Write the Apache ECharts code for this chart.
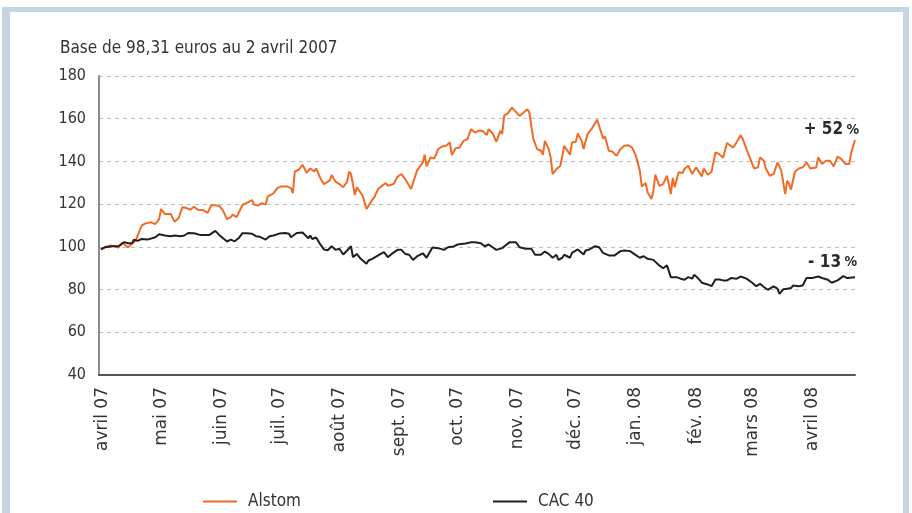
<!DOCTYPE html>
<html>
<head>
<meta charset="utf-8">
<script src="https://cdn.jsdelivr.net/npm/echarts@6/dist/echarts.min.js"></script>
<style>
  html, body { margin: 0; padding: 0; background: #fff; }
  #chart { width: 912px; height: 513px; }
</style>
</head>
<body>
<div id="chart"></div>
<script>
// days counted from 1 April 2007
const monthStarts = [0, 30, 61, 91, 122, 153, 183, 214, 244, 275, 306, 335, 366]
const monthLabels = ['avril 07', 'mai 07', 'juin 07', 'juil. 07', 'août 07', 'sept. 07', 'oct. 07',
  'nov. 07', 'déc. 07', 'jan. 08', 'fév. 08', 'mars 08', 'avril 08']

const alstomDays = [1, 3, 6, 8, 10, 12, 15, 19, 20, 22, 24, 25, 27, 29, 31, 32, 34, 37, 39, 41, 43, 45, 47, 49, 51, 54, 56, 58, 62,
  64, 66, 68, 69, 71, 73, 74, 77, 79, 80, 82, 84, 86, 87, 90, 92, 94, 97, 99, 100, 101, 103, 105, 106, 107, 109, 111, 112, 114,
  116, 117, 119, 120, 122, 124, 126, 128, 129, 130, 132, 133, 136, 138, 139, 141, 142, 144, 146, 148, 149, 152, 154, 156, 158,
  159, 161, 162, 164, 165, 167, 168, 169, 171, 172, 173, 175, 177, 179, 181, 182, 184, 186, 188, 190, 192, 193, 194, 196, 198,
  200, 201, 203, 205, 207, 208, 209, 211, 213, 214, 217, 219, 221, 222, 224, 226, 228, 229, 230, 232, 233, 234, 236, 238, 240,
  243, 244, 246, 247, 249, 250, 252, 254, 257, 258, 260, 261, 263, 265, 267, 269, 271, 273, 275, 277, 279, 280, 282, 283, 285,
  286, 287, 289, 291, 293, 295, 296, 297, 299, 301, 302, 304, 306, 308, 309, 311, 312, 314, 316, 318, 320, 322, 323, 324, 327,
  328, 329, 331, 332, 333, 335, 337, 338, 340, 341, 343, 344, 346, 348, 350, 351, 352, 354, 355, 356, 357, 359, 361, 363, 365,
  367, 370, 371, 373, 375, 377, 379, 380, 381, 383, 384, 385, 387, 388, 390]
const alstomValues = [98.8, 99.8, 100.6, 100.3, 99.7, 101.9, 99.8, 103, 102.2, 110, 111, 110.6, 111.5, 110.6, 113, 117.7, 115.4,
  115.4, 111.8, 113.4, 118.5, 118.2, 117.4, 118.8, 117.4, 117.1, 115.9, 119.6, 119.3,
  117, 113, 113.9, 115.1, 113.9, 117.7, 119.6, 120.9, 121.9, 119.8, 119.3, 120.5, 119.8, 123.5, 125, 127.5, 128.3, 128.3, 127.5,
  125.2, 135.3, 136.1, 138.4, 136.7, 134.6, 136.7, 135.3, 136.7, 132.5, 129.4, 129, 131, 133.6, 130.5, 129.4, 127.9, 130.5,
  135.2, 134.1, 124.3, 127.9, 124, 117.7, 118.2, 122.1, 123.2, 127.1, 128.6, 129.9, 128.6, 129.4, 132.8, 134.1, 131.7, 131.4,
  127.1, 127.9, 135.6, 135.6, 139.5, 143.1, 137.7, 141.9, 142.6, 141.4, 145.8, 147, 147.3, 148.9, 143, 146.2, 146.5, 149.6,
  150.4, 155.1, 155.4, 153.5, 154.5, 154.2, 152.3, 155.1, 153.2, 149.2, 154.3, 152.8, 161.3, 162.6, 165.2, 164.7, 161.3, 162.9,
  164.4, 162.9, 150.7, 145.8, 145, 143.1, 149.6, 145.8, 141.9, 134.1, 136.4, 138, 147.3, 143.1, 148.9, 149.2, 153.1, 149.6,
  145.8, 152.8, 155.1, 159.5, 156.7, 150.7, 151.7, 145, 144.5, 142.6, 145.8, 147.3, 147.6, 146.5, 142.6, 135.6, 128.3, 129.9,
  125.5, 122.4, 126.3, 133.8, 128.6, 129.4, 133.3, 124.7, 132.3, 127.9, 134.9, 134.6, 136.4, 138, 134.1, 137.2, 137.2, 133,
  136.7, 133.8, 135.2, 144.2, 143.4, 141.7, 145.4, 148.6, 146.5, 147.6, 147.6, 152.3, 150.7, 150.4, 143.4, 138.8, 136.7, 137.2,
  141.9, 140.3, 136.7, 133.3, 134.1, 139.5, 137.7, 135.6, 124.7, 131, 129.4, 126.8, 135.2, 136.7, 137.2, 139.5, 136.7, 137.2,
  141.9, 138.8, 140.3, 140.3, 137.7, 138, 142.3, 141.1, 141.1, 138.8, 138.8, 143.9, 150]

const cacDays = [1, 3, 7, 10, 13, 15, 17, 18, 20, 22, 25, 29, 31, 34, 37, 39, 42, 44, 46, 49, 50, 52, 55, 57, 60, 62, 64, 66, 68,
  70, 72, 74, 76, 79, 81, 83, 86, 88, 90, 93, 94, 96, 98, 99, 102, 105, 106, 108, 109, 110, 112, 114, 116, 118, 120, 122, 124,
  126, 128, 130, 131, 133, 135, 138, 139, 141, 144, 147, 149, 151, 154, 156, 158, 160, 162, 164, 167, 169, 172, 175, 178, 180,
  183, 185, 189, 192, 194, 197, 199, 201, 203, 205, 208, 210, 212, 215, 217, 220, 223, 225, 228, 230, 232, 234, 236, 237, 239,
  240, 243, 244, 247, 250, 251, 253, 256, 258, 260, 263, 266, 269, 271, 274, 276, 279, 281, 283, 286, 289, 291, 293, 295, 298,
  300, 302, 304, 306, 307, 309, 311, 314, 316, 318, 320, 322, 324, 326, 327, 329, 331, 332, 334, 337, 339, 341, 343, 345, 348,
  350, 351, 353, 355, 357, 358, 361, 363, 365, 368, 371, 373, 376, 378, 381, 382, 384, 386, 387, 390]
const cacValues = [98.8, 99.8, 100.3, 100.3, 102.2, 101.7, 101.7, 103.3, 102.8, 103.7, 103.4, 104.5, 105.9, 105.3, 105, 105.3,
  105, 105.3, 106.5, 106.4, 106.8, 105.6, 105.6, 105.6, 107.5, 105.6, 104, 102.5, 103.4,
  102.6, 104, 106.4, 106.4, 106.1, 105, 104.7, 103.4, 105, 105.3, 106.2, 105.8, 106.5, 106.1, 104.5, 106.5, 106.7, 105.8, 104,
  105.3, 103.7, 104.4, 101.4, 98.8, 98.4, 100.3, 98.6, 99.1, 96.4, 98.3, 100.3, 95.2, 96.7, 94.4, 92.1, 93.6, 94.4, 96, 97.5,
  95.2, 96.7, 98.6, 98.6, 96.7, 96.3, 93.9, 95.5, 97, 94.9, 99.7, 99.4, 98.6, 99.8, 100.2, 101.1, 101.6, 102.2, 102.2, 101.7,
  100.3, 101.1, 99.8, 98.6, 99.4, 100.9, 102.2, 102.2, 99.8, 99.1, 99.1, 96.3, 96.3, 97.8, 96.7, 94.9, 96.3, 93.9, 94.9, 96.3,
  94.9, 97.2, 98.8, 96.4, 98.3, 98.8, 100.3, 99.8, 97.2, 96, 96, 98, 98.3, 98, 96.7, 94.9, 95.6, 94.4, 93.9, 91.3, 90, 91.3,
  85.8, 85.8, 85.1, 84.6, 85.8, 85.1, 86.9, 85.4, 83.2, 82.4, 81.6, 84.7, 84.7, 84.3, 84.3, 85.4, 84.6, 85.1, 86.1, 86.6, 85.1,
  83.2, 81.6, 82.7, 81.2, 79.9, 81.5, 80.4, 78, 80.1, 80.4, 80.7, 81.9, 81.6, 81.9, 85.4, 85.4, 86.1, 85.4, 84.6, 83.2, 84.3,
  85.1, 86.3, 85.4, 86.1, 85.8]

const seriesNames = ['Alstom', 'CAC 40']
const endLabels = ['+ 52', '- 13']

const FONT = "'DejaVu Sans Condensed', 'Liberation Sans Narrow', sans-serif"
const ORANGE = '#f26b24'
const DARK = '#231f20'

function pairs(days, values) {
  return days.map((d, i) => [d, values[i]])
}

function endMark(days, values, text, offset) {
  return {
    symbol: 'circle',
    symbolSize: 0,
    silent: true,
    data: [{ coord: [days[days.length - 1], values[values.length - 1]] }],
    label: {
      show: true,
      position: 'inside',
      align: 'right',
      verticalAlign: 'middle',
      offset: offset,
      formatter: '{a|' + text + '} {b|%}',
      rich: {
        a: { fontFamily: FONT, fontSize: 17, fontWeight: 'bold', color: '#2b2b2b' },
        b: { fontFamily: FONT, fontSize: 14, fontWeight: 'bold', color: '#2b2b2b' }
      }
    }
  }
}

const chart = echarts.init(document.getElementById('chart'))

const legendBase = {
  icon: 'rect',
  itemWidth: 34,
  itemHeight: 2,
  top: 488,
  textStyle: { fontFamily: FONT, fontSize: 17, color: '#333', padding: [0, 0, 0, 6] }
}

chart.setOption({
  animation: false,
  backgroundColor: '#fff',
  graphic: [
    { type: 'rect', z: -10, silent: true, shape: { x: 2, y: 7, width: 907, height: 520 }, style: { fill: '#c6d5e4' } },
    { type: 'rect', z: -9, silent: true, shape: { x: 10, y: 12, width: 893, height: 520 }, style: { fill: '#ffffff' } }
  ],
  title: {
    text: 'Base de 98,31 euros au 2 avril 2007',
    left: 55,
    top: 35,
    textStyle: { fontFamily: FONT, fontSize: 17, fontWeight: 'normal', color: '#333' }
  },
  legend: [
    Object.assign({ data: [seriesNames[0]], left: 198 }, legendBase),
    Object.assign({ data: [seriesNames[1]], left: 488 }, legendBase)
  ],
  grid: { left: 99, right: 57, top: 76, bottom: 138 },
  xAxis: {
    type: 'value',
    min: 0,
    max: 390,
    axisLine: { show: true, onZero: false, lineStyle: { color: '#555', width: 2 } },
    axisTick: { show: false },
    splitLine: { show: false },
    axisLabel: {
      rotate: 90,
      margin: 12,
      customValues: monthStarts,
      showMinLabel: true,
      showMaxLabel: true,
      verticalAlign: 'top',
      lineHeight: 8,
      fontFamily: "'DejaVu Sans', sans-serif",
      fontSize: 17,
      color: '#333',
      formatter: function (v) {
        const i = monthStarts.indexOf(v)
        return i >= 0 ? monthLabels[i] : ''
      }
    }
  },
  yAxis: {
    type: 'value',
    min: 40,
    max: 180,
    interval: 20,
    axisLine: { show: true, lineStyle: { color: '#8c8c8c', width: 2 } },
    axisTick: { show: false },
    axisLabel: { margin: 13, fontFamily: FONT, fontSize: 16, color: '#333' },
    splitLine: { lineStyle: { color: '#bdbdbd', width: 1, type: [4, 4] } }
  },
  series: [
    {
      name: seriesNames[0],
      type: 'line',
      showSymbol: false,
      symbol: 'none',
      color: ORANGE,
      lineStyle: { color: ORANGE, width: 2 },
      data: pairs(alstomDays, alstomValues),
      markPoint: endMark(alstomDays, alstomValues, endLabels[0], [4, -10])
    },
    {
      name: seriesNames[1],
      type: 'line',
      showSymbol: false,
      symbol: 'none',
      color: DARK,
      lineStyle: { color: DARK, width: 2 },
      data: pairs(cacDays, cacValues),
      markPoint: endMark(cacDays, cacValues, endLabels[1], [2, -15])
    }
  ]
})
</script>
</body>
</html>
